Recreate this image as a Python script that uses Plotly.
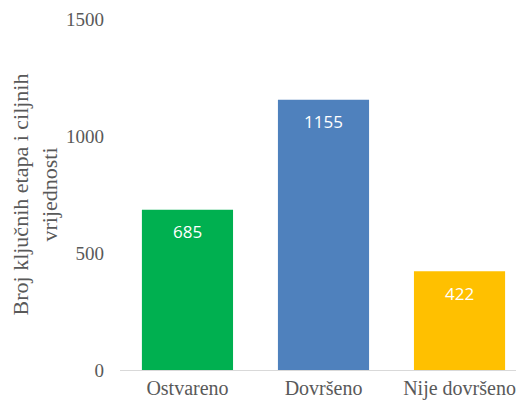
import plotly.graph_objects as go

categories = ["Ostvareno", "Dovršeno", "Nije dovršeno"]
values = [685, 1155, 422]
colors = ["#00B050", "#4F81BD", "#FFC000"]
y_ticks = [0, 500, 1000, 1500]

SERIF = "Times New Roman, Liberation Serif, DejaVu Serif, serif"

fig = go.Figure(go.Bar(
    x=categories, y=values,
    marker=dict(color=colors, line=dict(width=0)),
    width=0.67,
    cliponaxis=False,
))

for c, v in zip(categories, values):
    fig.add_annotation(
        x=c, y=v, xref="x", yref="y", text=str(v), showarrow=False,
        yanchor="middle", yshift=-22,
        font=dict(family="Open Sans, Liberation Sans, sans-serif", size=17, color="white"),
    )

fig.update_layout(
    width=516, height=392,
    margin=dict(l=112, r=0, t=11, b=28),
    paper_bgcolor="white", plot_bgcolor="white",
    showlegend=False,
    font=dict(family=SERIF, size=19, color="#595959"),
    xaxis=dict(
        range=[-0.496, 2.474],
        showgrid=False, showline=True, linecolor="#D9D9D9", linewidth=1,
        ticks="", tickfont=dict(family=SERIF, size=20, color="#595959"),
    ),
    yaxis=dict(
        range=[0, 1500], tickvals=y_ticks,
        showgrid=False, showline=False, zeroline=False,
        ticks="", ticklabelstandoff=15,
        tickfont=dict(family=SERIF, size=19, color="#595959"),
        title=dict(text="Broj ključnih etapa i ciljnih<br>vrijednosti",
                   font=dict(family=SERIF, size=22, color="#595959"),
                   standoff=10),
    ),
)

fig.write_html("out.html")
